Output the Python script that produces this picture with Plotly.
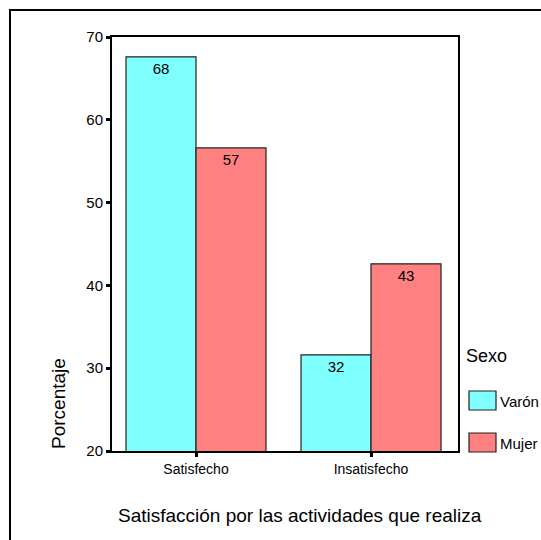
import plotly.graph_objects as go

# Percentages by satisfaction level and sex
categorias = ["Satisfecho", "Insatisfecho"]
sexos = ["Varón", "Mujer"]
valores_varon = [67.6, 31.6]
valores_mujer = [56.6, 42.6]
colores = ["#80FFFF", "#FF8080"]
y_ticks = [20, 30, 40, 50, 60, 70]

FONT = "Liberation Sans, Arial, sans-serif"

# Plot area in pixels (page 541x540)
L, R, T, B = 112, 458, 37, 451
W, H = 541, 540
pw, ph = R - L, B - T


def px_x(x):
    return (x - L) / pw


def px_y(y):
    return (B - y) / ph


fig = go.Figure()
for nombre, vals, col in zip(sexos, [valores_varon, valores_mujer], colores):
    fig.add_trace(go.Bar(
        x=[0, 1], y=vals, name=nombre,
        marker=dict(color=col, line=dict(color="#222222", width=1.2)),
        text=vals, texttemplate="%{y:.0f}",
        textposition="inside", insidetextanchor="end",
        insidetextfont=dict(family=FONT, size=15, color="black"),
        showlegend=False,
    ))

fig.update_layout(
    width=W, height=H,
    margin=dict(l=L, r=W - R, t=T, b=H - B, pad=0),
    paper_bgcolor="white", plot_bgcolor="white",
    barmode="group", bargap=0.2, bargroupgap=0,
    font=dict(family=FONT, color="black"),
    xaxis=dict(
        range=[-0.48, 1.497], tickvals=[0, 1], ticktext=categorias,
        showline=True, linecolor="black", linewidth=2, mirror=True,
        ticks="outside", ticklen=4, tickwidth=3, tickcolor="black",
        showgrid=False, zeroline=False,
        tickfont=dict(family=FONT, size=14),
    ),
    yaxis=dict(
        range=[20, 70], tickvals=y_ticks,
        showline=True, linecolor="black", linewidth=2, mirror=True,
        ticks="outside", ticklen=4, tickwidth=3, tickcolor="black",
        showgrid=False, zeroline=False,
        tickfont=dict(family=FONT, size=15),
    ),
)

# Outer frame around the chart
fig.add_shape(type="rect", xref="paper", yref="paper",
              x0=px_x(10), x1=px_x(600), y0=px_y(600), y1=px_y(10),
              line=dict(color="black", width=2), fillcolor="rgba(0,0,0,0)",
              layer="below")

# Axis titles
fig.add_annotation(xref="paper", yref="paper", x=px_x(300), y=px_y(515),
                   text="Satisfacción por las actividades que realiza",
                   showarrow=False, font=dict(family=FONT, size=19),
                   xanchor="center", yanchor="middle")
fig.add_annotation(xref="paper", yref="paper", x=px_x(58), y=px_y(404),
                   text="Porcentaje", textangle=-90,
                   showarrow=False, font=dict(family=FONT, size=19),
                   xanchor="center", yanchor="middle")

# Legend drawn beside the plot
fig.add_annotation(xref="paper", yref="paper", x=px_x(464), y=px_y(356),
                   text="Sexo", showarrow=False,
                   font=dict(family=FONT, size=18),
                   xanchor="left", yanchor="middle")
for i, (nombre, col) in enumerate(zip(sexos, colores)):
    y0 = 391 + i * 42
    fig.add_shape(type="rect", xref="paper", yref="paper",
                  x0=px_x(469), x1=px_x(496), y0=px_y(y0 + 19), y1=px_y(y0),
                  fillcolor=col, line=dict(color="#222222", width=1.2))
    fig.add_annotation(xref="paper", yref="paper", x=px_x(498), y=px_y(y0 + 10),
                       text=nombre, showarrow=False,
                       font=dict(family=FONT, size=15),
                       xanchor="left", yanchor="middle")

fig.write_html("out.html")
